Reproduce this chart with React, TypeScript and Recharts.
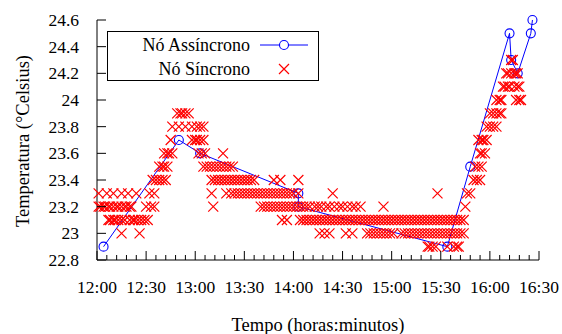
import { ScatterChart, Scatter, XAxis, YAxis } from "recharts";

const FONT = '"Liberation Serif", "Times New Roman", serif';
const RED = "#ff0000";
const BLUE = "#0000ff";

// minutes after 12:00
const XTICKS = [0, 30, 60, 90, 120, 150, 180, 210, 240, 270];
const XTICK_LABELS = ["12:00", "12:30", "13:00", "13:30", "14:00", "14:30", "15:00", "15:30", "16:00", "16:30"];
const YTICKS = [22.8, 23, 23.2, 23.4, 23.6, 23.8, 24, 24.2, 24.4, 24.6];
const YTICK_LABELS = ["22.8", "23", "23.2", "23.4", "23.6", "23.8", "24", "24.2", "24.4", "24.6"];

// Nó Assíncrono
const ASYNC_TIME = [4, 50, 63, 123, 123, 214, 228, 252, 253, 257, 265, 266];
const ASYNC_TEMP = [22.9, 23.7, 23.6, 23.3, 23.2, 22.9, 23.5, 24.5, 24.3, 24.2, 24.5, 24.6];

// Nó Síncrono: sample times (min) for each temperature level
const SYNC_229 = [202, 203, 205, 207, 214, 218, 220, 221];
const SYNC_230 = [15, 26, 136, 139, 142, 152, 156, 165, 167, 169, 171, 173, 175, 177, 179, 181, 186, 188, 190, 192, 194, 196, 198, 200, 202, 204, 206, 208, 210, 212, 214, 216, 218, 220, 222, 224];
const SYNC_231 = [7, 8, 10, 11, 13, 15, 17, 20, 22, 23, 25, 27, 29, 31, 113, 116, 124, 126, 128, 130, 132, 134, 136, 138, 140, 142, 144, 146, 148, 150, 152, 154, 156, 158, 160, 162, 164, 166, 168, 170, 172, 174, 176, 178, 180, 182, 184, 186, 188, 190, 192, 194, 196, 198, 200, 202, 204, 206, 208, 210, 212, 214, 216, 218, 220, 222, 224];
const SYNC_232 = [1, 2, 4, 5, 7, 8, 10, 12, 13, 15, 17, 18, 20, 21, 30, 33, 35, 71, 100, 102, 104, 106, 108, 110, 112, 114, 116, 118, 120, 122, 124, 126, 128, 130, 133, 135, 137, 140, 142, 145, 148, 150, 153, 156, 158, 161, 175, 225];
const SYNC_233 = [1, 6, 10, 15, 19, 24, 32, 35, 70, 79, 82, 84, 86, 88, 90, 92, 94, 96, 98, 100, 102, 104, 106, 108, 110, 112, 114, 116, 118, 120, 123, 144, 208, 226, 228];
const SYNC_234 = [34, 36, 38, 40, 42, 70, 72, 74, 76, 78, 80, 82, 84, 86, 88, 90, 92, 94, 96, 108, 112, 123, 230, 232, 234];
const SYNC_235 = [38, 40, 41, 43, 65, 67, 69, 71, 73, 75, 77, 79, 81, 83, 231, 233, 235];
const SYNC_236 = [41, 43, 44, 46, 62, 64, 66, 77, 234, 235, 237];
const SYNC_237 = [45, 58, 60, 61, 63, 65, 233, 235, 236, 238];
const SYNC_238 = [46, 50, 54, 58, 61, 63, 65, 238, 240, 242, 244];
const SYNC_239 = [49, 51, 52, 54, 56, 240, 242, 244, 246, 247];
const SYNC_240 = [244, 246, 247, 256, 258, 259];
const SYNC_241 = [248, 249, 251, 252, 255, 257, 258];
const SYNC_242 = [250, 251, 253, 255, 256, 257];
const SYNC_243 = [253, 254];

const SYNC_LEVELS: [number, number[]][] = [
  [22.9, SYNC_229], [23.0, SYNC_230], [23.1, SYNC_231], [23.2, SYNC_232],
  [23.3, SYNC_233], [23.4, SYNC_234], [23.5, SYNC_235], [23.6, SYNC_236],
  [23.7, SYNC_237], [23.8, SYNC_238], [23.9, SYNC_239], [24.0, SYNC_240],
  [24.1, SYNC_241], [24.2, SYNC_242], [24.3, SYNC_243],
];

const asyncData = ASYNC_TIME.map((t, i) => ({ t, v: ASYNC_TEMP[i] }));
const syncData = SYNC_LEVELS.flatMap(([v, ts]) => ts.map((t) => ({ t, v })));

const MINOR_TICKS = Array.from({ length: 46 }, (_, i) => i * 6);

function BottomTick({ x, y, payload }: any) {
  const i = XTICKS.indexOf(payload.value);
  const major = i >= 0;
  return (
    <g>
      <line x1={x} x2={x} y1={y} y2={y - (major ? 9 : 5)} stroke="#000" />
      {major && (
        <text x={x} y={y + 33} textAnchor="middle" fontSize={17.5} fontFamily={FONT} fill="#000">
          {XTICK_LABELS[i]}
        </text>
      )}
    </g>
  );
}

function TopTick({ x, y, payload }: any) {
  const major = XTICKS.includes(payload.value);
  return <line x1={x} x2={x} y1={y} y2={y + (major ? 9 : 5)} stroke="#000" />;
}

function LeftTick({ x, y, payload }: any) {
  const i = YTICKS.indexOf(payload.value);
  return (
    <g>
      <line x1={x} x2={x + 9} y1={y} y2={y} stroke="#000" />
      <text x={x - 18} y={y + 6} textAnchor="end" fontSize={17.5} fontFamily={FONT} fill="#000">
        {YTICK_LABELS[i]}
      </text>
    </g>
  );
}

function RightTick({ x, y }: any) {
  return <line x1={x} x2={x - 9} y1={y} y2={y} stroke="#000" />;
}

function Cross({ cx, cy }: any) {
  const s = 5;
  return (
    <path
      d={`M${cx - s},${cy - s}L${cx + s},${cy + s}M${cx - s},${cy + s}L${cx + s},${cy - s}`}
      stroke={RED}
      strokeWidth={1.2}
      fill="none"
    />
  );
}

function Ring({ cx, cy }: any) {
  return <circle cx={cx} cy={cy} r={4.5} stroke={BLUE} strokeWidth={1.1} fill="none" />;
}

export default function App() {
  return (
    <div style={{ position: "absolute", left: 0, top: 0, width: 562, height: 334, background: "#fff", fontFamily: FONT }}>
      <ScatterChart width={562} height={334} margin={{ top: 20, right: 23, bottom: 0, left: 0 }}>
        <XAxis
          xAxisId="b" dataKey="t" type="number" domain={[0, 270]} ticks={MINOR_TICKS} interval={0}
          height={74} tickSize={0} tickMargin={0} tickLine={false} axisLine={{ stroke: "#000" }} tick={<BottomTick />}
        />
        <XAxis
          xAxisId="top" orientation="top" type="number" domain={[0, 270]} ticks={MINOR_TICKS} interval={0}
          height={0} tickSize={0} tickMargin={0} tickLine={false} axisLine={{ stroke: "#000" }} tick={<TopTick />}
        />
        <YAxis
          yAxisId="l" dataKey="v" type="number" domain={[22.8, 24.6]} ticks={YTICKS} interval={0}
          width={97} tickSize={0} tickMargin={0} tickLine={false} axisLine={{ stroke: "#000" }} tick={<LeftTick />}
        />
        <YAxis
          yAxisId="r" orientation="right" type="number" domain={[22.8, 24.6]} ticks={YTICKS} interval={0}
          width={0} tickSize={0} tickMargin={0} tickLine={false} axisLine={{ stroke: "#000" }} tick={<RightTick />}
        />
        <Scatter
          name="Nó Assíncrono" data={asyncData} xAxisId="b" yAxisId="l" dataKey="v"
          line={{ stroke: BLUE, strokeWidth: 1 }} lineType="joint" shape={<Ring />} isAnimationActive={false}
        />
        <Scatter
          name="Nó Síncrono" data={syncData} xAxisId="b" yAxisId="l" dataKey="v"
          shape={<Cross />} isAnimationActive={false}
        />
      </ScatterChart>
      <svg width={562} height={334} style={{ position: "absolute", left: 0, top: 0, pointerEvents: "none" }}>
        <text x={318} y={331} textAnchor="middle" fontSize={18.5} fontFamily={FONT} fill="#000">
          Tempo (horas:minutos)
        </text>
        <text
          x={0} y={0} transform="translate(29,141) rotate(-90)" textAnchor="middle"
          fontSize={18.5} fontFamily={FONT} fill="#000"
        >
          Temperatura (°Celsius)
        </text>
        <rect x={107.5} y={31.5} width={211} height={49} fill="#fff" stroke="#000" strokeWidth={1} />
        <text x={250} y={51} textAnchor="end" fontSize={18} fontFamily={FONT} fill="#000">Nó Assíncrono</text>
        <line x1={260} x2={308} y1={45} y2={45} stroke={BLUE} strokeWidth={1} />
        <circle cx={284} cy={45} r={4.5} stroke={BLUE} strokeWidth={1.1} fill="#fff" />
        <text x={250} y={75} textAnchor="end" fontSize={18} fontFamily={FONT} fill="#000">Nó Síncrono</text>
        <path d="M279,64L289,74M279,74L289,64" stroke={RED} strokeWidth={1.2} fill="none" />
      </svg>
    </div>
  );
}
